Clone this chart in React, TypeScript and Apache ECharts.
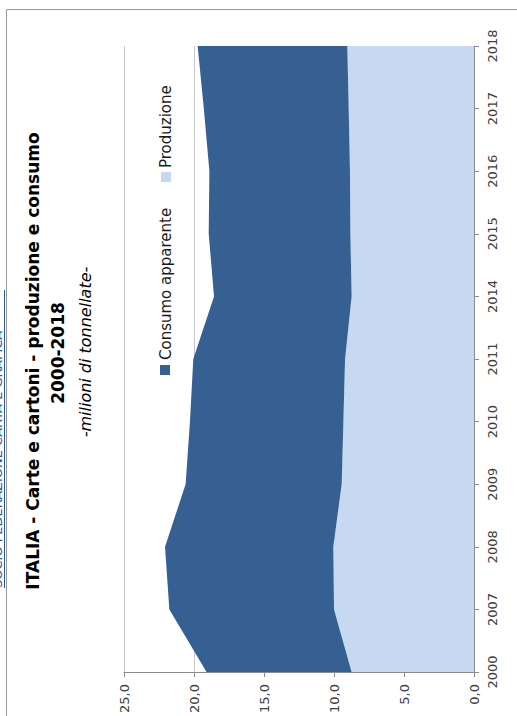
import { useEffect, useRef } from "react";
import * as echarts from "echarts";

// Italian paper & board: production and apparent consumption, million tonnes
const years = ["2000", "2007", "2008", "2009", "2010", "2011", "2014", "2015", "2016", "2017", "2018"];
const produzione = [8.74, 10.0, 10.05, 9.45, 9.33, 9.21, 8.74, 8.83, 8.86, 8.95, 9.05];
const consumoApparente = [10.36, 11.76, 12.02, 11.15, 10.96, 10.84, 9.83, 10.12, 10.04, 10.35, 10.69];

const seriesNames = ["Consumo apparente", "Produzione"];
const titleLines = ["ITALIA - Carte e cartoni - produzione e consumo", "2000-2018", "-milioni di tonnellate-"];
const headerLink = "SOCIO FEDERAZIONE CARTA E GRAFICA";

const DARK = "#376092";
const LIGHT = "#c6d9f0";
const FONT = '"DejaVu Sans", sans-serif';
const UP = Math.PI / 2; // text reading bottom-to-top

export default function App() {
  const ref = useRef<HTMLDivElement>(null);

  useEffect(() => {
    if (!ref.current) return;
    const chart = echarts.init(ref.current, undefined, { renderer: "svg" });
    chart.setOption({
      animation: false,
      backgroundColor: "#ffffff",
      grid: { left: 124, right: 43, top: 46, bottom: 41, containLabel: false },
      xAxis: {
        type: "value",
        min: 0,
        max: 25,
        interval: 5,
        inverse: true,
        position: "bottom",
        axisLine: { show: true, onZero: false, lineStyle: { color: "#8c8c8c", width: 1 } },
        axisTick: { show: true, length: 5, lineStyle: { color: "#8c8c8c" } },
        splitLine: { show: true, lineStyle: { color: "#c8c8c8", width: 1 } },
        axisLabel: {
          rotate: 90,
          margin: 12,
          fontFamily: FONT,
          fontSize: 13,
          color: "#404040",
          formatter: (v: number) => v.toFixed(1).replace(".", ","),
        },
      },
      yAxis: {
        type: "category",
        data: years,
        boundaryGap: false,
        position: "right",
        axisLine: { show: true, onZero: false, lineStyle: { color: "#8c8c8c", width: 1 } },
        axisTick: { show: true, length: 5, inside: false, lineStyle: { color: "#8c8c8c" } },
        splitLine: { show: false },
        axisLabel: {
          rotate: 90,
          margin: 12,
          fontFamily: FONT,
          fontSize: 13,
          color: "#404040",
        },
      },
      series: [
        {
          name: seriesNames[1],
          type: "line",
          stack: "totale",
          data: produzione,
          symbol: "none",
          lineStyle: { width: 0 },
          areaStyle: { color: LIGHT, opacity: 1 },
          color: LIGHT,
          z: 2,
        },
        {
          name: seriesNames[0],
          type: "line",
          stack: "totale",
          data: consumoApparente,
          symbol: "none",
          lineStyle: { width: 0 },
          areaStyle: { color: DARK, opacity: 1 },
          color: DARK,
          z: 2,
        },
      ],
      graphic: [
        // page frame
        {
          type: "polyline",
          silent: true,
          shape: { points: [[6.5, 716], [6.5, 9.5], [517, 9.5]] },
          style: { stroke: "#9a9a9a", lineWidth: 1, fill: "none" },
        },
        // header link, running off the page edge
        {
          type: "text",
          silent: true,
          x: 3.5,
          y: 588,
          rotation: UP,
          style: {
            text: headerLink,
            font: `13px ${FONT}`,
            fill: "#2f5597",
            align: "left",
            verticalAlign: "bottom",
          },
        },
        {
          type: "line",
          silent: true,
          shape: { x1: 4.5, y1: 588, x2: 4.5, y2: 290 },
          style: { stroke: "#2f5597", lineWidth: 1 },
        },
        // titles
        {
          type: "text",
          silent: true,
          x: 33,
          y: 361,
          rotation: UP,
          style: {
            text: titleLines[0],
            font: `bold 17px ${FONT}`,
            fill: "#000000",
            align: "center",
            verticalAlign: "middle",
          },
        },
        {
          type: "text",
          silent: true,
          x: 58,
          y: 353,
          rotation: UP,
          style: {
            text: titleLines[1],
            font: `bold 17px ${FONT}`,
            fill: "#000000",
            align: "center",
            verticalAlign: "middle",
          },
        },
        {
          type: "text",
          silent: true,
          x: 85,
          y: 352,
          rotation: UP,
          style: {
            text: titleLines[2],
            font: `italic 16px ${FONT}`,
            fill: "#000000",
            align: "center",
            verticalAlign: "middle",
          },
        },
        // legend
        {
          type: "rect",
          silent: true,
          shape: { x: 160, y: 365, width: 10, height: 10 },
          style: { fill: DARK },
        },
        {
          type: "text",
          silent: true,
          x: 166,
          y: 360,
          rotation: UP,
          style: {
            text: seriesNames[0],
            font: `15px ${FONT}`,
            fill: "#1a1a1a",
            align: "left",
            verticalAlign: "middle",
          },
        },
        {
          type: "rect",
          silent: true,
          shape: { x: 161, y: 172, width: 10, height: 10 },
          style: { fill: LIGHT },
        },
        {
          type: "text",
          silent: true,
          x: 166,
          y: 168,
          rotation: UP,
          style: {
            text: seriesNames[1],
            font: `15px ${FONT}`,
            fill: "#1a1a1a",
            align: "left",
            verticalAlign: "middle",
          },
        },
      ],
    });
    return () => chart.dispose();
  }, []);

  return (
    <div
      ref={ref}
      style={{ position: "fixed", left: 0, top: 0, width: 517, height: 716, background: "#fff" }}
    />
  );
}
